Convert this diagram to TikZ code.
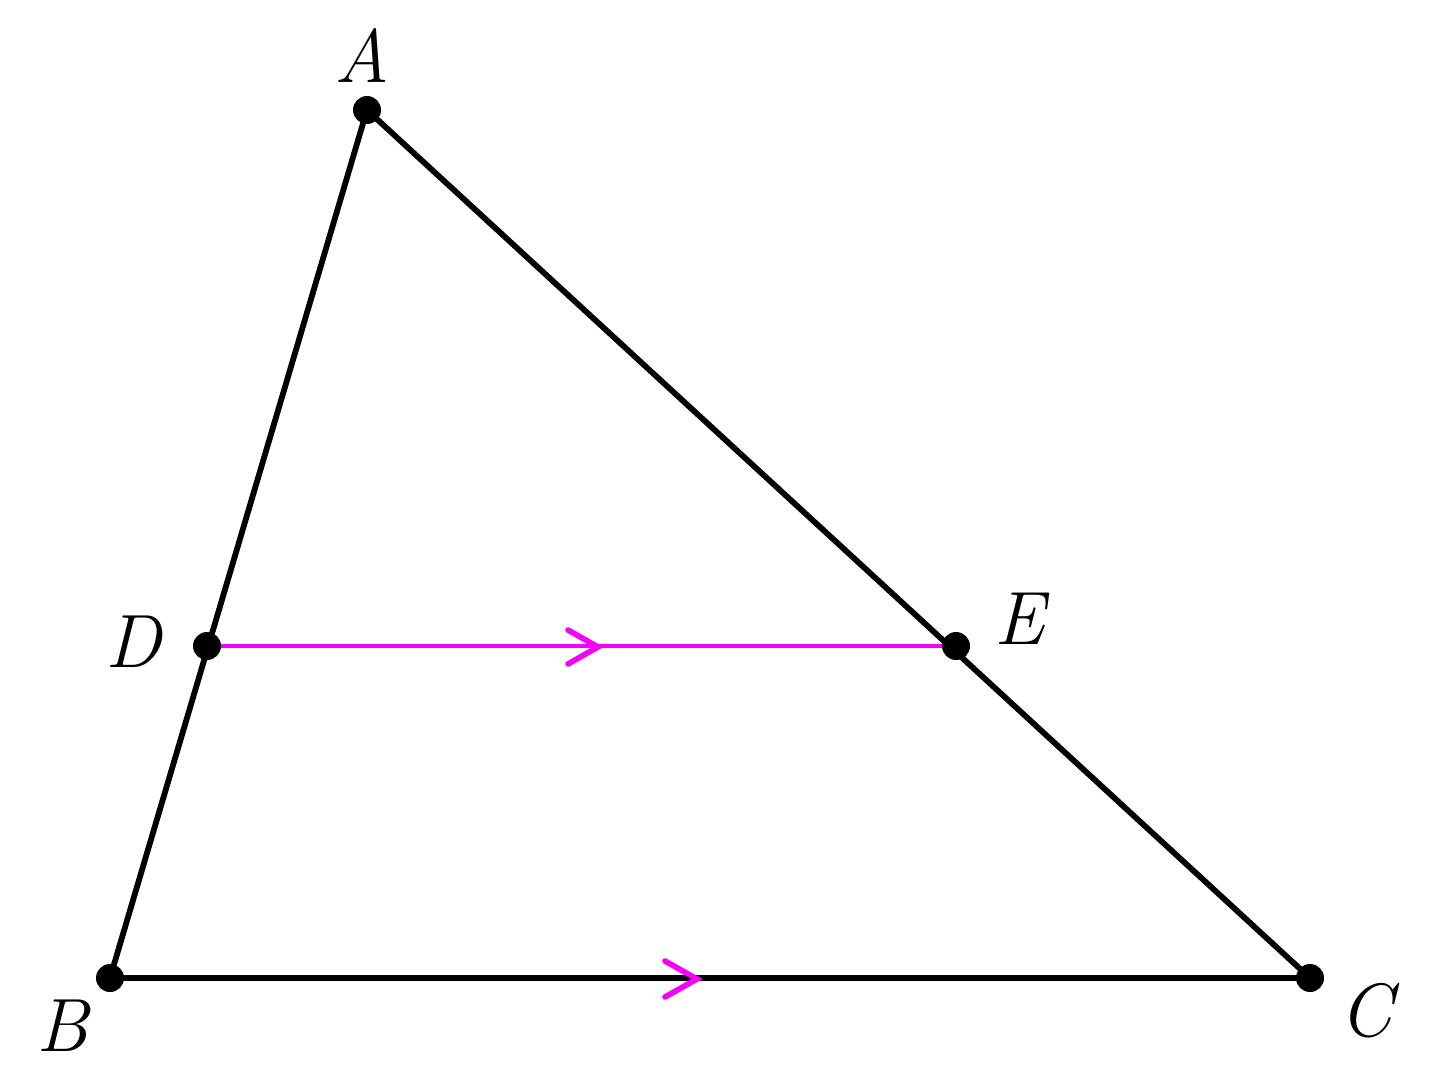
\documentclass[tikz,border=0pt]{standalone}
\usetikzlibrary{calc}
\definecolor{mag}{RGB}{245,0,245}
\tikzset{
  seg/.style={line width=3.3pt, black},
  par/.style={line width=2.6pt, mag},
  chev/.style={line width=3.2pt, mag, line cap=round, line join=miter},
  dot/.style={circle, fill=black, inner sep=0pt, minimum size=0.56cm},
  lbl/.style={font=\fontsize{43}{46}\selectfont\itshape}
}
\begin{document}
\begin{tikzpicture}[x=0.02cm,y=-0.02cm]
\useasboundingbox (0,0) rectangle (1445,1088);
\coordinate (A) at (367,110);
\coordinate (B) at (110,978);
\coordinate (C) at (1310,978);
\coordinate (D) at (207,646);
\coordinate (E) at (956,646);
\draw[seg, line join=round] (B) -- (A) -- (C) -- cycle;
\draw[par] (D) -- (E);
\coordinate (t1) at (598,647);
\coordinate (t2) at (697,979);
\draw[chev] ($(t1)+(-30,-17)$) -- (t1) -- ($(t1)+(-30,17)$);
\draw[chev] ($(t2)+(-32,-18)$) -- (t2) -- ($(t2)+(-32,18)$);
\foreach \p in {A,B,C,D,E} \node[dot] (n\p) at (\p) {};
\node[lbl] (lA) at (362,56) {A};
\node[lbl] (lB) at (62,1026) {B};
\node[lbl] (lC) at (1366,1011) {C};
\node[lbl] (lD) at (133,642) {D};
\node[lbl] (lE) at (1020,619) {E};
\end{tikzpicture}
\end{document}
